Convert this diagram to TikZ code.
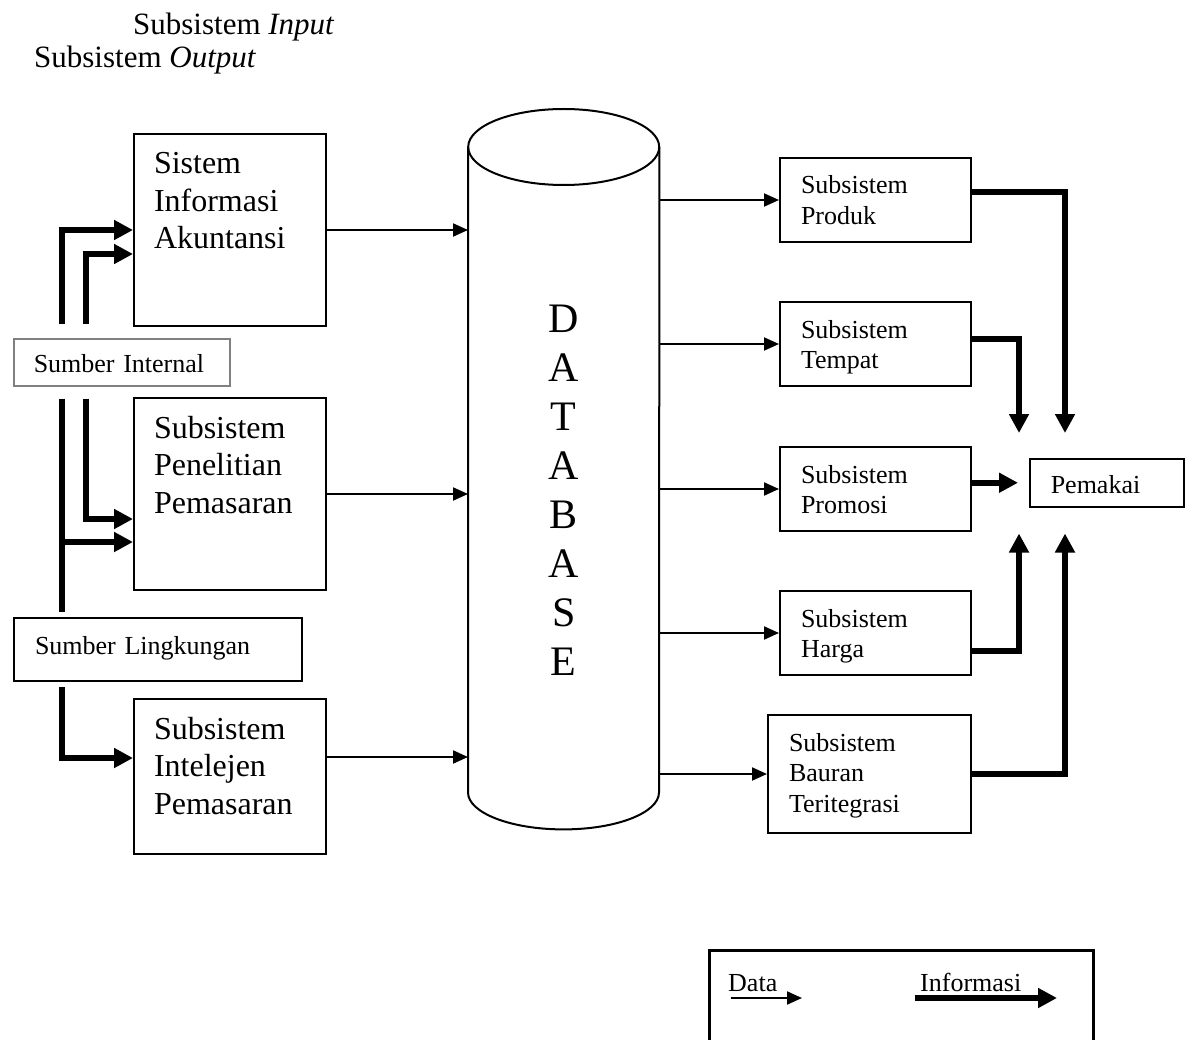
\documentclass[tikz,border=0pt]{standalone}
\usepackage{fontspec}
\setmainfont{Liberation Serif}
\usetikzlibrary{arrows.meta,positioning}
\newcommand{\sisbig}{\fontsize{32}{37.5}\selectfont}
\newcommand{\sissmall}{\fontsize{26}{30.5}\selectfont}
\newcommand{\sistitle}{\fontsize{31}{34}\selectfont}
\newcommand{\sisdb}{\fontsize{42}{49}\selectfont}
\tikzset{
  sis/box/.style={
    draw,
    line width=2pt,
    anchor=north west,
    align=left,
    inner ysep=0pt,
    inner xsep=20pt
  },
  sis/bigbox/.style={sis/box, font=\sisbig, text width=152pt, text height=40pt},
  sis/subbox/.style={sis/box, font=\sissmall, inner xsep=21pt, text height=36pt, text depth=48pt},
  sis/srcbox/.style={sis/box, font=\sissmall},
  sis/data/.style={-{Triangle[length=15pt,width=13pt]}, line width=2pt},
  sis/info/.style={-{Triangle[length=19pt,width=19pt]}, line width=6pt, line join=miter},
  sis/title/.style={anchor=base west, inner sep=0pt, font=\sistitle},
  sis/label/.style={anchor=base west, inner sep=0pt, font=\sissmall}
}
\begin{document}
\begin{tikzpicture}[x=1pt,y=-1pt]
  \useasboundingbox (0,0) rectangle (1190,1040);
  % judul
  \node[sis/title] (titlein) at (133,35) {Subsistem \textit{Input}};
  \node[sis/title] (titleout) at (34,68) {Subsistem \textit{Output}};
  % subsistem input dan sumber
  \node[sis/bigbox, text depth=152pt] (ais) at (133,133) {Sistem\\Informasi\\Akuntansi};
  \node[sis/bigbox, text depth=152pt] (pen) at (133,397) {Subsistem\\Penelitian\\Pemasaran};
  \node[sis/bigbox, text depth=115pt] (intel) at (133,698) {Subsistem\\Intelejen\\Pemasaran};
  \node[sis/srcbox, draw=gray, line width=1.5pt, text width=176pt, text height=34pt, text depth=13pt] (intsrc) at (13,338) {Sumber Internal};
  \node[sis/srcbox, inner xsep=21pt, text width=246pt, text height=36pt, text depth=27pt] (envsrc) at (13,617) {Sumber Lingkungan};
  % database
  \node[anchor=north west, inner sep=0pt, text width=191pt, align=center, font=\sisdb, text height=185pt, text depth=460pt] (db) at (468,147) {D\\A\\T\\A\\B\\A\\S\\E};
  \draw[line width=2pt] (db.north west) -- (db.south west)
    arc[start angle=180, end angle=360, x radius=95.5pt, y radius=37pt] -- (db.north east);
  \draw[line width=2pt] (db.north) ellipse[x radius=95.5pt, y radius=38pt];
  % subsistem output
  \node[sis/subbox, text width=149pt] (prod) at (779,157) {Subsistem\\Produk};
  \node[sis/subbox, text width=149pt] (temp) at (779,301) {Subsistem\\Tempat};
  \node[sis/subbox, text width=149pt] (prom) at (779,446) {Subsistem\\Promosi};
  \node[sis/subbox, text width=149pt] (harg) at (779,590) {Subsistem\\Harga};
  \node[sis/subbox, text width=161pt, text depth=82pt] (baur) at (767,714) {Subsistem\\Bauran\\Teritegrasi};
  \node[sis/srcbox, line width=1.5pt, inner xsep=21pt, text width=112pt, text height=35pt, text depth=13pt] (pem) at (1029,458) {Pemakai};
  % aliran informasi dari sumber
  \coordinate (ina) at ([xshift=49pt,yshift=14pt]intsrc.north west);
  \coordinate (inb) at ([xshift=73pt,yshift=14pt]intsrc.north west);
  \coordinate (outa) at ([xshift=49pt,yshift=-12pt]intsrc.south west);
  \coordinate (outb) at ([xshift=73pt,yshift=-12pt]intsrc.south west);
  \coordinate (penlow) at ([yshift=-48pt]pen.west);
  \draw[sis/info] (ina) |- (ais.west);
  \draw[sis/info] (inb) |- ([yshift=-24pt]ais.west);
  \draw[sis/info] (outb) |- ([yshift=-25pt]pen.west);
  \draw[line width=6pt] (outa) -- ([xshift=49pt,yshift=5pt]envsrc.north west);
  \draw[sis/info] (outa |- penlow) -- (penlow);
  \draw[sis/info] ([xshift=49pt,yshift=-5pt]envsrc.south west) |- ([yshift=18.5pt]intel.west);
  % data ke database
  \coordinate (intelout) at ([yshift=19.5pt]intel.east);
  \draw[sis/data] (ais) -- (ais -| db.west);
  \draw[sis/data] (pen) -- (pen -| db.west);
  \draw[sis/data] (intelout) -- (intelout -| db.west);
  \draw[sis/data] (prod -| db.east) -- (prod.west);
  \draw[sis/data] (temp -| db.east) -- (temp.west);
  \draw[sis/data] (prom -| db.east) -- (prom.west);
  \draw[sis/data] (harg -| db.east) -- (harg.west);
  \draw[sis/data] (baur -| db.east) -- (baur.west);
  % informasi ke pemakai
  \draw[sis/info] ([yshift=8pt]prod.east) -| ([xshift=36pt,yshift=25pt]pem.north west);
  \draw[sis/info] ([yshift=5pt]temp.east) -| ([xshift=-10pt,yshift=25pt]pem.north west);
  \draw[sis/info] (prom.east |- pem) -- ([xshift=-11pt]pem.west);
  \draw[sis/info] ([yshift=-18pt]harg.east) -| ([xshift=-10pt,yshift=-26pt]pem.south west);
  \draw[sis/info] (baur.east) -| ([xshift=36pt,yshift=-26pt]pem.south west);
  % keterangan
  \node[draw, line width=2.5pt, anchor=north west, minimum width=384pt, minimum height=120pt] (legend) at (708,949) {};
  \node[sis/label] (datalbl) at ([xshift=20pt,yshift=-42pt]legend.north west) {Data};
  \node[sis/label] (infolbl) at ([xshift=212pt,yshift=-42pt]legend.north west) {Informasi};
  \draw[sis/data] ([xshift=3pt,yshift=-7pt]datalbl.base west) -- ++(71,0);
  \draw[sis/info] ([xshift=-5pt,yshift=-7pt]infolbl.base west) -- ++(142,0);
\end{tikzpicture}
\end{document}
